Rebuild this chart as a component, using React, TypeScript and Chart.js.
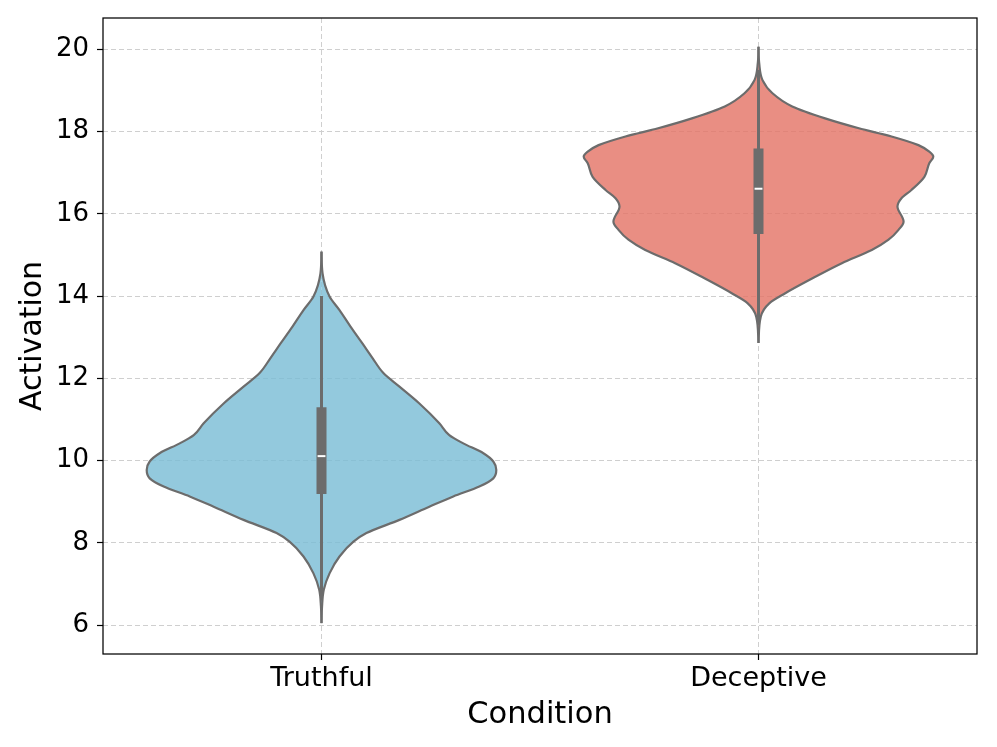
import { useEffect, useRef } from 'react';
import { Chart, registerables } from 'chart.js';

Chart.register(...registerables);

const CATEGORIES = ['Truthful', 'Deceptive'];
const Y_TICKS = [6, 8, 10, 12, 14, 16, 18, 20];

// Violin outlines: activation level and relative density (max = 1)
const TRUTHFUL_LEVELS = [6.05, 6.45, 6.86, 7.26, 7.67, 8.03, 8.24, 8.56, 8.88, 9.13, 9.37, 9.57, 9.77, 9.98, 10.18, 10.42, 10.62, 10.91, 11.39, 11.8, 12.13, 12.5, 12.85, 13.26, 13.66, 13.99, 14.55, 15.08];
const TRUTHFUL_DENSITY = [0, 0.003, 0.013, 0.046, 0.103, 0.183, 0.257, 0.446, 0.617, 0.754, 0.903, 0.983, 1.0, 0.983, 0.926, 0.811, 0.731, 0.674, 0.56, 0.446, 0.354, 0.291, 0.234, 0.166, 0.103, 0.046, 0.006, 0];

const DECEPTIVE_LEVELS = [12.86, 13.5, 13.83, 14.07, 14.39, 14.8, 15.12, 15.37, 15.61, 15.81, 16.18, 16.38, 16.58, 16.9, 17.23, 17.39, 17.51, 17.67, 17.88, 18.08, 18.32, 18.61, 18.93, 19.25, 19.66, 20.06];
const DECEPTIVE_DENSITY = [0, 0.013, 0.063, 0.153, 0.29, 0.477, 0.648, 0.744, 0.801, 0.83, 0.795, 0.818, 0.875, 0.949, 0.977, 1.0, 0.977, 0.915, 0.761, 0.574, 0.381, 0.193, 0.08, 0.023, 0.004, 0];

// Inner box: [whisker low, q1, median, q3, whisker high]
const TRUTHFUL_BOX = [6.6, 9.19, 10.11, 11.3, 14.0];
const DECEPTIVE_BOX = [13.3, 15.51, 16.61, 17.59, 19.5];

const OUTLINE = 'rgb(108,108,108)';
const FILLS = ['rgba(120,187,213,0.8)', 'rgba(227,114,100,0.8)'];
const HALF_WIDTH = 0.4;

function violinHalf(center: number, levels: number[], dens: number[], sign: number, color: string) {
  return {
    type: 'line' as const,
    indexAxis: 'y' as const,
    data: levels.map((v, i) => ({ x: center + sign * HALF_WIDTH * dens[i], y: v })),
    borderColor: OUTLINE,
    borderWidth: 2.2,
    backgroundColor: color,
    fill: { value: center },
    pointRadius: 0,
    cubicInterpolationMode: 'monotone' as const,
  };
}

function boxSets(center: number, box: number[]) {
  return [
    {
      type: 'line' as const,
      indexAxis: 'x' as const,
      data: [{ x: center - 0.009, y: box[2] }, { x: center + 0.009, y: box[2] }],
      borderColor: '#ffffff',
      borderWidth: 2,
      pointRadius: 0,
      fill: false,
    },
    {
      type: 'line' as const,
      indexAxis: 'y' as const,
      data: [{ x: center, y: box[1] }, { x: center, y: box[3] }],
      borderColor: OUTLINE,
      borderWidth: 10,
      pointRadius: 0,
      fill: false,
    },
    {
      type: 'line' as const,
      indexAxis: 'y' as const,
      data: [{ x: center, y: box[0] }, { x: center, y: box[4] }],
      borderColor: OUTLINE,
      borderWidth: 3,
      pointRadius: 0,
      fill: false,
    },
  ];
}

const framePlugin = {
  id: 'frame',
  afterDraw(chart: any) {
    const { ctx, chartArea } = chart;
    ctx.save();
    ctx.strokeStyle = '#000';
    ctx.lineWidth = 1.25;
    ctx.strokeRect(chartArea.left, chartArea.top, chartArea.right - chartArea.left, chartArea.bottom - chartArea.top);
    ctx.restore();
  },
};

export default function App() {
  const ref = useRef<HTMLCanvasElement | null>(null);

  useEffect(() => {
    if (!ref.current) return;
    Chart.defaults.font.family = '"DejaVu Sans", sans-serif';
    const datasets: any[] = [
      ...boxSets(0, TRUTHFUL_BOX),
      ...boxSets(1, DECEPTIVE_BOX),
      violinHalf(0, TRUTHFUL_LEVELS, TRUTHFUL_DENSITY, 1, FILLS[0]),
      violinHalf(0, TRUTHFUL_LEVELS, TRUTHFUL_DENSITY, -1, FILLS[0]),
      violinHalf(1, DECEPTIVE_LEVELS, DECEPTIVE_DENSITY, 1, FILLS[1]),
      violinHalf(1, DECEPTIVE_LEVELS, DECEPTIVE_DENSITY, -1, FILLS[1]),
    ];
    const chart = new Chart(ref.current, {
      type: 'line',
      data: { datasets },
      plugins: [framePlugin],
      options: {
        responsive: false,
        animation: false,
        events: [],
        layout: { padding: { left: 0, right: 20, top: 18, bottom: 0 } },
        plugins: { legend: { display: false }, tooltip: { enabled: false } },
        scales: {
          x: {
            type: 'linear',
            min: -0.5,
            max: 1.5,
            afterBuildTicks: (scale: any) => {
              scale.ticks = CATEGORIES.map((_, i) => ({ value: i }));
            },
            afterFit: (scale: any) => {
              scale.height = 93;
              scale.paddingLeft = 0;
              scale.paddingRight = 0;
            },
            ticks: {
              autoSkip: false,
              maxRotation: 0,
              color: '#000',
              font: { size: 27 },
              padding: 3,
              callback: (v: any) => CATEGORIES[Math.round(Number(v))] ?? '',
            },
            grid: { color: '#cfcfcf', lineWidth: 1, tickLength: 6, tickColor: '#000', tickWidth: 1.2 },
            border: { display: false, dash: [5, 3] },
            title: { display: true, text: 'Condition', color: '#000', font: { size: 30.5 }, padding: { top: 0, bottom: 14 } },
          },
          y: {
            type: 'linear',
            min: 5.3,
            max: 20.76,
            afterBuildTicks: (scale: any) => {
              scale.ticks = Y_TICKS.map((v) => ({ value: v }));
            },
            afterFit: (scale: any) => {
              scale.width = 103;
              scale.paddingTop = 0;
              scale.paddingBottom = 0;
            },
            ticks: { color: '#000', font: { size: 26 }, padding: 8 },
            grid: { color: '#cfcfcf', lineWidth: 1, tickLength: 6, tickColor: '#000', tickWidth: 1.2 },
            border: { display: false, dash: [5, 3] },
            title: { display: true, text: 'Activation', color: '#000', font: { size: 30 }, padding: { top: 15, bottom: 0 } },
          },
        },
      },
    } as any);
    return () => chart.destroy();
  }, []);

  return (
    <div style={{ position: 'fixed', left: 0, top: 0, width: 997, height: 747, background: '#fff' }}>
      <canvas ref={ref} width={997} height={747} style={{ width: 997, height: 747, display: 'block' }} />
    </div>
  );
}
